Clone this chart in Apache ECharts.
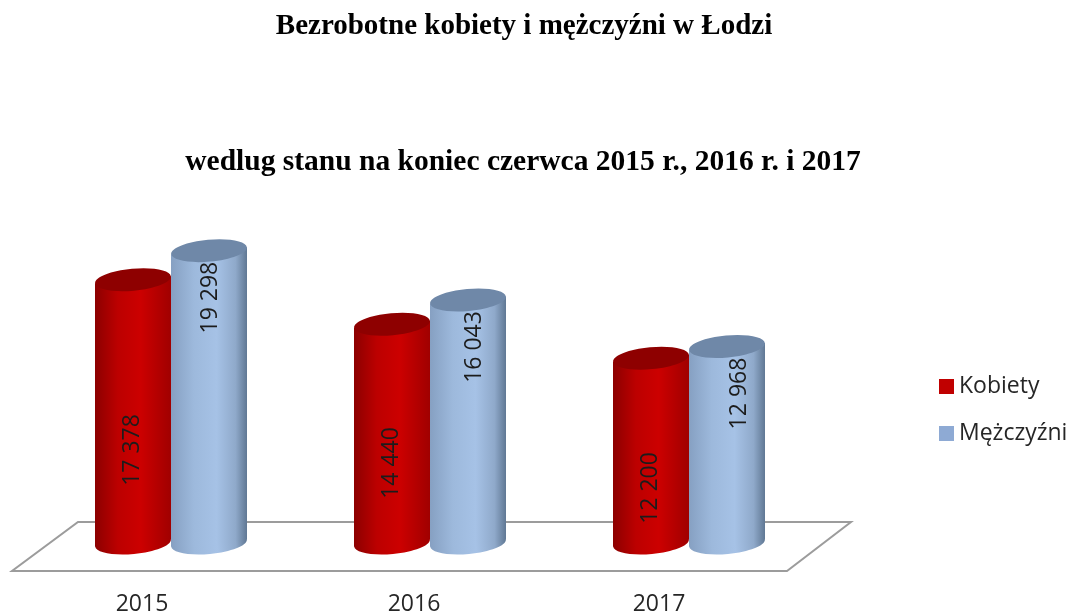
<html>
<head>
    <meta charset="utf-8">
    <title>Bezrobotne kobiety i mężczyźni w Łodzi</title>
    <script src="https://cdn.jsdelivr.net/npm/echarts@6/dist/echarts.min.js"></script>
    <style>html,body{margin:0;padding:0;background:#fff}</style>
</head>
<body>
    <div id="main" style="width:1073px;height:616px"></div>
    <script type="text/javascript">
        var years = ['2015', '2016', '2017'];
        var kobiety = [17378, 14440, 12200];
        var mezczyzni = [19298, 16043, 12968];

        // hand placed, the labels in the picture do not follow a rule
        var redLabelLift = [93, 80, 55];
        var blueLabelShift = [0, 5, 11];
        var yearLabelPadding = [58, 32, 60];

        var myChart = echarts.init(document.getElementById('main'));

        function fmt(v) {
            return String(v).replace(/(\d)(\d{3})$/, '$1 $2');
        }

        function sideGradient(stops) {
            return new echarts.graphic.LinearGradient(0, 0, 1, 0, stops);
        }

        function cylinder(seriesOffset, body, capColor, isRed) {
            return function (params, api) {
                var i = api.value(0);
                var top = api.coord([i, api.value(1)]);
                var base = api.coord([i, 0]);
                var cx = top[0] + seriesOffset, rx = 38, ry = 11, dy = 3.5;
                var tilt = Math.atan2(dy, rx);
                var labelX = cx + (isRed ? -1 : blueLabelShift[i] + 1);
                var labelY = isRed ? base[1] - redLabelLift[i] : top[1] + 47;
                return {
                    type: 'group',
                    children: [
                        {
                            type: 'ellipse',
                            shape: { cx: cx, cy: base[1], rx: rx, ry: ry },
                            rotation: tilt, originX: cx, originY: base[1],
                            style: { fill: sideGradient(body) }
                        },
                        {
                            type: 'polygon',
                            shape: { points: [
                                [cx - rx, top[1] + dy], [cx + rx, top[1] - dy],
                                [cx + rx, base[1] - dy], [cx - rx, base[1] + dy]
                            ] },
                            style: { fill: sideGradient(body) }
                        },
                        {
                            type: 'ellipse',
                            shape: { cx: cx, cy: top[1], rx: rx, ry: ry },
                            rotation: tilt, originX: cx, originY: top[1],
                            style: { fill: capColor }
                        },
                        {
                            type: 'text',
                            x: labelX, y: labelY,
                            rotation: Math.PI / 2,
                            style: {
                                text: fmt(api.value(1)),
                                font: '23px "Open Sans"',
                                fill: '#1c1c1c',
                                textAlign: 'center',
                                textVerticalAlign: 'middle'
                            }
                        }
                    ]
                };
            };
        }

        var redBody = [
            { offset: 0, color: '#8c0000' },
            { offset: 0.3, color: '#bc0000' },
            { offset: 0.6, color: '#cc0000' },
            { offset: 1, color: '#a00000' }
        ];
        var blueBody = [
            { offset: 0, color: '#86a0c2' },
            { offset: 0.3, color: '#9db9dc' },
            { offset: 0.6, color: '#a6c2e6' },
            { offset: 0.85, color: '#8fa9ca' },
            { offset: 1, color: '#607894' }
        ];

        var option = {
            animation: false,
            backgroundColor: '#ffffff',
            title: [
                {
                    text: 'Bezrobotne kobiety i mężczyźni w Łodzi',
                    left: 519, top: 7, textAlign: 'center',
                    textStyle: { fontFamily: 'Liberation Serif', fontSize: 29, fontWeight: 'bold', color: '#000' }
                },
                {
                    text: 'wedlug stanu na koniec czerwca 2015 r., 2016 r. i 2017',
                    left: 518, top: 142, textAlign: 'center',
                    textStyle: { fontFamily: 'Liberation Serif', fontSize: 29.5, fontWeight: 'bold', color: '#000' }
                }
            ],
            legend: {
                orient: 'vertical',
                left: 939, top: 375, padding: 0,
                itemWidth: 15, itemHeight: 15, itemGap: 24,
                icon: 'rect',
                data: ['Kobiety', 'Mężczyźni'],
                textStyle: { fontFamily: 'Open Sans', fontSize: 23, color: '#262626' }
            },
            grid: { left: 41.5, width: 777, top: 240, height: 305 },
            xAxis: {
                type: 'category',
                data: years,
                axisLine: { show: false },
                axisTick: { show: false },
                axisLabel: {
                    margin: 50,
                    formatter: function (v, i) { return '{y' + i + '|' + v + '}'; },
                    rich: {
                        y0: { fontFamily: 'Open Sans', fontSize: 23, color: '#262626', padding: [0, yearLabelPadding[0], 0, 0] },
                        y1: { fontFamily: 'Open Sans', fontSize: 23, color: '#262626', padding: [0, yearLabelPadding[1], 0, 0] },
                        y2: { fontFamily: 'Open Sans', fontSize: 23, color: '#262626', padding: [0, yearLabelPadding[2], 0, 0] }
                    }
                }
            },
            yAxis: { type: 'value', min: 0, max: 20000, show: false },
            graphic: [{
                type: 'polygon',
                z: 0,
                shape: { points: [[78, 522], [851, 522], [787, 571], [12, 571]] },
                style: { fill: '#ffffff', stroke: '#9c9c9c', lineWidth: 2 }
            }],
            series: [
                {
                    name: 'Kobiety',
                    type: 'custom',
                    itemStyle: { color: '#c00000' },
                    encode: { x: 0, y: 1 },
                    data: kobiety.map(function (v, i) { return [i, v]; }),
                    renderItem: cylinder(-38, redBody, '#8e0000', true)
                },
                {
                    name: 'Mężczyźni',
                    type: 'custom',
                    itemStyle: { color: '#8eaad4' },
                    encode: { x: 0, y: 1 },
                    data: mezczyzni.map(function (v, i) { return [i, v]; }),
                    renderItem: cylinder(38, blueBody, '#6f88a8', false)
                }
            ]
        };
        myChart.setOption(option);
    </script>
</body>
</html>
